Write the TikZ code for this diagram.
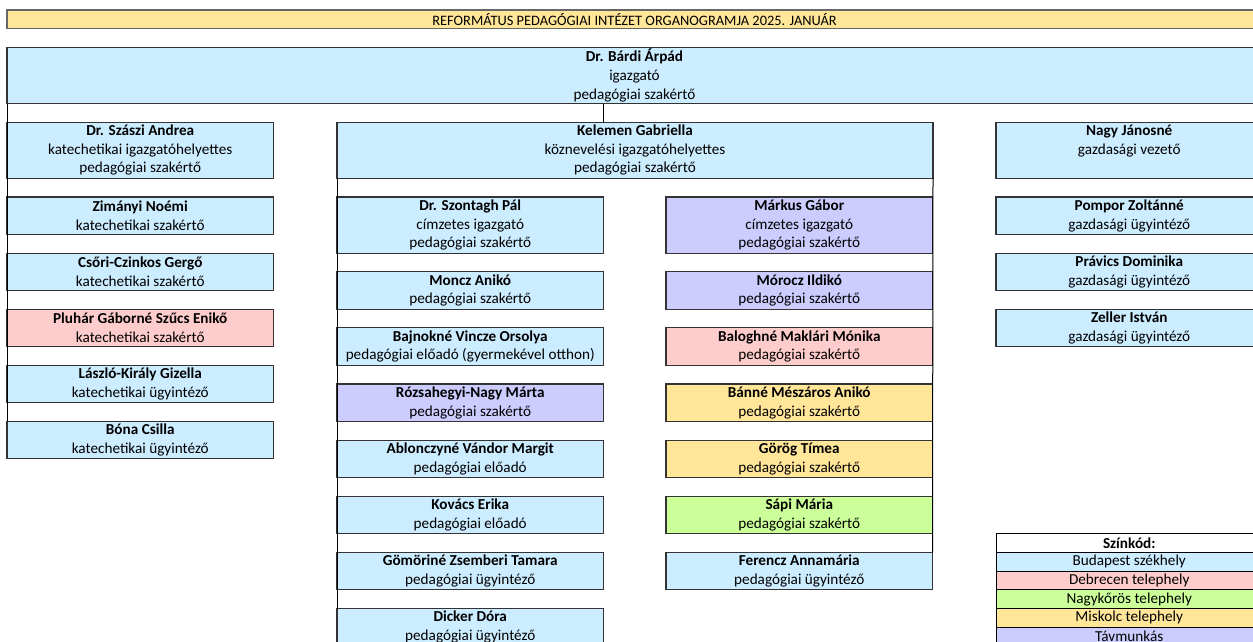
\documentclass[tikz,border=0pt]{standalone}
\usepackage{fontspec}
\setmainfont{Carlito}
\usepackage{xcolor}
\usepackage{tikz}
\usetikzlibrary{
    positioning
}

\definecolor{bpkek}{HTML}{CCECFF}
\definecolor{debrozsa}{HTML}{FFCCCC}
\definecolor{nkzold}{HTML}{CCFF99}
\definecolor{misksarga}{HTML}{FFE699}
\definecolor{tavlila}{HTML}{CCCCFF}

\begin{document}
\begin{tikzpicture}[x=1pt, y=-1pt,
    box/.style={draw=black!80, line width=1.1pt, fill=bpkek, inner sep=0pt, outer sep=0pt,
        align=center, font=\fontsize{15.2}{18.7}\selectfont},
    col/.style={box, minimum width=266.5pt},
    two/.style={col, minimum height=37.4pt},
    three/.style={col, minimum height=56.1pt},
    one/.style={col, minimum height=18.7pt, line width=0.9pt, draw=black},
    node distance=18.7pt]
    \useasboundingbox (0,0) rectangle (1253,642);
    \clip (0,0) rectangle (1253,642);

    % fejléc és igazgató
    \node[box, fill=misksarga, draw=black!60, minimum width=1255pt, minimum height=18.7pt, anchor=north west,
        font=\fontsize{14.4}{18.7}\selectfont] (cim) at (7,10)
        {REFORMÁTUS PEDAGÓGIAI INTÉZET ORGANOGRAMJA 2025. JANUÁR};
    \node[box, minimum width=1255pt, minimum height=56.1pt, anchor=north west] (igazgato) at (7,47.4)
        {\textbf{Dr. Bárdi Árpád}\\igazgató\\pedagógiai szakértő};

    % katechetikai oszlop
    \node[three, anchor=north west] (szaszi) at (7,122.2)
        {\textbf{Dr. Szászi Andrea}\\katechetikai igazgatóhelyettes\\pedagógiai szakértő};
    \node[two, below=of szaszi] (zimanyi) {\textbf{Zimányi Noémi}\\katechetikai szakértő};
    \node[two, below=of zimanyi] (csori) {\textbf{Csőri-Czinkos Gergő}\\katechetikai szakértő};
    \node[two, fill=debrozsa, below=of csori] (pluhar) {\textbf{Pluhár Gáborné Szűcs Enikő}\\katechetikai szakértő};
    \node[two, below=of pluhar] (laszlo) {\textbf{László-Király Gizella}\\katechetikai ügyintéző};
    \node[two, below=of laszlo] (bona) {\textbf{Bóna Csilla}\\katechetikai ügyintéző};

    % köznevelési ág
    \node[box, minimum width=596pt, minimum height=56.1pt, anchor=north west] (kelemen) at (337,122.2)
        {\textbf{Kelemen Gabriella}\\köznevelési igazgatóhelyettes\\pedagógiai szakértő};
    \node[three, anchor=north west] (szontagh) at (337,197)
        {\textbf{Dr. Szontagh Pál}\\címzetes igazgató\\pedagógiai szakértő};
    \node[two, below=of szontagh] (moncz) {\textbf{Moncz Anikó}\\pedagógiai szakértő};
    \node[two, below=of moncz] (bajnokne) {\textbf{Bajnokné Vincze Orsolya}\\pedagógiai előadó (gyermekével otthon)};
    \node[two, fill=tavlila, below=of bajnokne] (rozsahegyi) {\textbf{Rózsahegyi-Nagy Márta}\\pedagógiai szakértő};
    \node[two, below=of rozsahegyi] (ablonczyne) {\textbf{Ablonczyné Vándor Margit}\\pedagógiai előadó};
    \node[two, below=of ablonczyne] (kovacs) {\textbf{Kovács Erika}\\pedagógiai előadó};
    \node[two, below=of kovacs] (gomorine) {\textbf{Gömöriné Zsemberi Tamara}\\pedagógiai ügyintéző};
    \node[two, below=of gomorine] (dicker) {\textbf{Dicker Dóra}\\pedagógiai ügyintéző};

    \node[three, fill=tavlila, anchor=north west] (markus) at (666,197)
        {\textbf{Márkus Gábor}\\címzetes igazgató\\pedagógiai szakértő};
    \node[two, fill=tavlila, below=of markus] (morocz) {\textbf{Mórocz Ildikó}\\pedagógiai szakértő};
    \node[two, fill=debrozsa, below=of morocz] (baloghne) {\textbf{Baloghné Maklári Mónika}\\pedagógiai szakértő};
    \node[two, fill=misksarga, below=of baloghne] (banne) {\textbf{Bánné Mészáros Anikó}\\pedagógiai szakértő};
    \node[two, fill=misksarga, below=of banne] (gorog) {\textbf{Görög Tímea}\\pedagógiai szakértő};
    \node[two, fill=nkzold, below=of gorog] (sapi) {\textbf{Sápi Mária}\\pedagógiai szakértő};
    \node[two, below=of sapi] (ferencz) {\textbf{Ferencz Annamária}\\pedagógiai ügyintéző};

    % gazdasági oszlop
    \node[three, anchor=north west] (nagy) at (996,122.2)
        {\textbf{Nagy Jánosné}\\gazdasági vezető\\\phantom{pedagógiai szakértő}};
    \node[two, anchor=north west] (pompor) at (996,197) {\textbf{Pompor Zoltánné}\\gazdasági ügyintéző};
    \node[two, below=of pompor] (pravics) {\textbf{Právics Dominika}\\gazdasági ügyintéző};
    \node[two, below=of pravics] (zeller) {\textbf{Zeller István}\\gazdasági ügyintéző};

    % színkód
    \node[one, fill=white, anchor=north west] (szinkod) at (996,533.6) {\textbf{Színkód:}};
    \node[one, below=0pt of szinkod] (budapest) {Budapest székhely};
    \node[one, fill=debrozsa, below=0pt of budapest] (debrecen) {Debrecen telephely};
    \node[one, fill=nkzold, below=0pt of debrecen] (nagykoros) {Nagykőrös telephely};
    \node[one, fill=misksarga, below=0pt of nagykoros] (miskolc) {Miskolc telephely};
    \node[one, fill=tavlila, below=0pt of miskolc] (tavmunkas) {Távmunkás};

    \draw[line width=1pt] (igazgato.south west) -- (bona.north west);
    \draw[line width=1pt] (igazgato.south -| szontagh.east) -- (kelemen.north -| szontagh.east);
    \draw[line width=1pt] (kelemen.south west) -- (dicker.north west);
    \draw[line width=1pt] (kelemen.south east) -- (ferencz.north east);
\end{tikzpicture}
\end{document}
